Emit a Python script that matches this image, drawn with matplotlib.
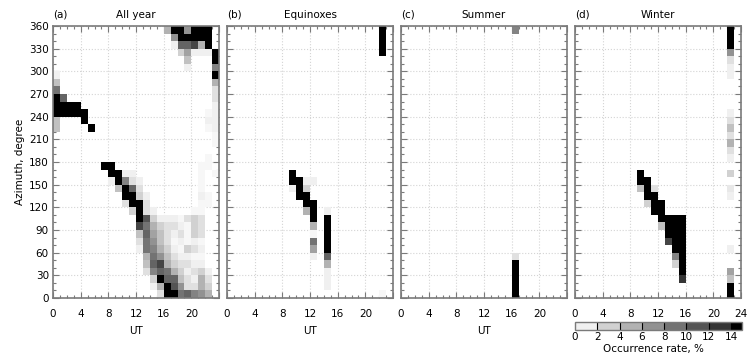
import numpy as np
import matplotlib

matplotlib.use("Agg")
import matplotlib.pyplot as plt
from matplotlib.colors import BoundaryNorm, LinearSegmentedColormap, ListedColormap, Normalize
from matplotlib.cm import ScalarMappable
from matplotlib.ticker import MultipleLocator

# occurrence rate (%) per 1 h UT x 10 deg azimuth cell, 15 = saturated (>14 %)
# each run: (UT hour, lowest azimuth of run, values going up in 10 deg steps)
ALL_YEAR = [
    (0, 220, [4, 4, 15, 15, 15, 9, 4, 1]),
    (1, 240, [15, 15, 10]),
    (2, 240, [15, 15]),
    (3, 240, [15, 15]),
    (4, 230, [15, 15]),
    (5, 220, [15]),
    (7, 170, [15]),
    (8, 150, [1, 15, 15]),
    (9, 140, [4, 15, 15]),
    (10, 120, [2, 15, 15, 8, 1]),
    (11, 110, [3, 15, 15, 10, 2, 1]),
    (12, 60, [1, 2, 4, 12, 15, 15, 15, 3, 2, 1]),
    (13, 30, [2, 4, 5, 9, 9, 10, 9, 11, 2, 2, 1]),
    (14, 10, [1, 3, 8, 10, 9, 8, 7, 6, 5, 3, 1]),
    (15, 0, [2, 5, 15, 10, 12, 7, 5, 4, 4, 3, 1]),
    (16, 0, [15, 15, 10, 9, 5, 4, 3, 2, 2, 2, 1]),
    (16, 350, [5]),
    (17, 0, [15, 11, 10, 5, 3, 2, 1, 0.5, 1, 2, 1]),
    (17, 330, [1, 7, 15]),
    (18, 0, [9, 7, 4, 3, 2, 1, 0.5, 1, 2, 1, 0.5]),
    (18, 320, [3, 10, 15, 15]),
    (19, 0, [10, 2, 2, 1, 2, 1, 3, 0.5, 0.5, 0.5, 2]),
    (19, 300, [1, 4, 6, 10, 15, 7]),
    (20, 0, [8, 2, 1, 2, 1, 0.5, 2, 1, 3, 3, 3, 0.5]),
    (20, 320, [1, 12, 15, 15]),
    (21, 0, [7, 5, 5, 3, 1, 0.5, 1, 0.5, 2, 2, 2, 0.5, 0.5, 1, 0.5, 0.5, 0.5, 0.5]),
    (21, 320, [1, 5, 15, 15]),
    (22, 0, [5, 3, 2, 1]),
    (22, 120, [0.5, 0.5, 0, 0, 0, 0.5, 0.5]),
    (22, 220, [0.5, 1, 0.5]),
    (22, 320, [1, 15, 15, 15]),
    (23, 160, [0.5]),
    (23, 200, [0.5, 0.5, 1, 1, 1, 1, 2, 2, 5, 15, 8, 15, 15]),
]

EQUINOXES = [
    (9, 140, [1, 15, 15]),
    (10, 130, [15, 15, 15]),
    (11, 110, [5, 15, 15, 3, 1]),
    (12, 50, [1, 6, 9, 0.5, 5, 15, 15, 15, 0, 0, 1]),
    (14, 10, [1, 1, 1, 5, 10, 15, 15, 15, 15, 15, 1]),
    (22, 0, [0.5]),
    (22, 320, [15, 15, 15, 15]),
]

SUMMER = [
    (16, 0, [15, 15, 15, 15, 15, 2]),
    (16, 350, [8]),
]

WINTER = [
    (9, 140, [4, 15, 15]),
    (10, 120, [3, 15, 15, 15]),
    (11, 110, [15, 15, 15, 2]),
    (12, 90, [4, 15, 15, 15]),
    (13, 70, [12, 15, 15, 15]),
    (14, 40, [3, 8, 15, 15, 15, 15, 15]),
    (15, 20, [13, 15, 15, 15, 15, 15, 15, 15, 15]),
    (22, 0, [15, 15, 4, 6, 0, 0, 1]),
    (22, 130, [1, 1.5, 0, 3, 0, 1, 2, 5, 2, 4, 2, 1]),
    (22, 290, [1, 1, 2, 7, 15, 15, 15]),
]

PANELS = [("(a)", "All year", ALL_YEAR), ("(b)", "Equinoxes", EQUINOXES),
          ("(c)", "Summer", SUMMER), ("(d)", "Winter", WINTER)]
UT_EDGES = np.arange(0, 25)
AZ_EDGES = np.arange(0, 370, 10)
RATE_BOUNDS = [0, 2, 4, 6, 8, 10, 12, 14]

FRAME = "#7a7a7a"
W, H = 749, 361


def grid_from_runs(runs):
    data = np.zeros((len(AZ_EDGES) - 1, len(UT_EDGES) - 1))
    for ut, az, values in runs:
        for k, v in enumerate(values):
            data[az // 10 + k, ut] = v
    return np.ma.masked_equal(data, 0)


plt.rcParams["font.family"] = "DejaVu Sans"
plt.rcParams["font.size"] = 7.5
fig = plt.figure(figsize=(W / 100, H / 100), dpi=100)

# white at 0 to dark grey at 14, anything above is black
cmap = LinearSegmentedColormap.from_list("occ", ["#ffffff", "#262626"])
cmap.set_over("black")
norm = Normalize(0, 14)
lefts = [53, 227, 401, 575]
for i, (tag, title, runs) in enumerate(PANELS):
    ax = fig.add_axes([lefts[i] / W, (H - 298) / H, 166 / W, 272 / H])
    ax.set_axisbelow(True)
    ax.pcolormesh(UT_EDGES, AZ_EDGES, grid_from_runs(runs), cmap=cmap, norm=norm)
    ax.set_xlim(0, 24)
    ax.set_ylim(0, 360)
    ax.xaxis.set_major_locator(MultipleLocator(4))
    ax.xaxis.set_minor_locator(MultipleLocator(1))
    ax.yaxis.set_major_locator(MultipleLocator(30))
    ax.yaxis.set_minor_locator(MultipleLocator(10))
    ax.grid(True, which="major", color="#d4d4d4", linestyle=":", linewidth=0.8)
    ax.tick_params(which="both", direction="in", top=True, right=True, color=FRAME)
    ax.tick_params(which="major", length=4.5, width=0.8)
    ax.tick_params(which="minor", length=2.5, width=0.8)
    ax.tick_params(axis="x", pad=8)
    ax.tick_params(axis="y", pad=3)
    for spine in ax.spines.values():
        spine.set_color(FRAME)
        spine.set_linewidth(1.2)
    if i < 3:
        ax.set_xticks(range(0, 25, 4), [str(t) for t in range(0, 21, 4)] + [""])
        ax.set_xlabel("UT", labelpad=5)
    else:
        ax.set_xticks(range(0, 25, 4), [str(t) for t in range(0, 25, 4)])
    if i == 0:
        ax.set_ylabel("Azimuth, degree", labelpad=3)
    else:
        ax.set_yticklabels([])
    ax.text(0.0, 1.03, tag, transform=ax.transAxes, ha="left", va="baseline")
    ax.text(0.5, 1.03, title, transform=ax.transAxes, ha="center", va="baseline")

# discrete colour bar under panel (d)
mids = [(a + b) / 2 / 14 for a, b in zip(RATE_BOUNDS[:-1], RATE_BOUNDS[1:])]
bar_cmap = ListedColormap([cmap(m) for m in mids])
bar_cmap.set_over("black")
cax = fig.add_axes([575 / W, (H - 329.5) / H, 167 / W, 7.5 / H])
cb = fig.colorbar(ScalarMappable(norm=BoundaryNorm(RATE_BOUNDS, bar_cmap.N), cmap=bar_cmap),
                  cax=cax, orientation="horizontal", extend="max", extendrect=True,
                  extendfrac=0.07, drawedges=True, ticks=RATE_BOUNDS)
cb.outline.set_edgecolor(FRAME)
cb.outline.set_linewidth(1.0)
cb.dividers.set_color("black")
cb.dividers.set_linewidth(0.8)
cax.tick_params(length=0, pad=2)
cb.set_label("Occurrence rate, %", labelpad=1)

fig.savefig("out.png", dpi=100)
